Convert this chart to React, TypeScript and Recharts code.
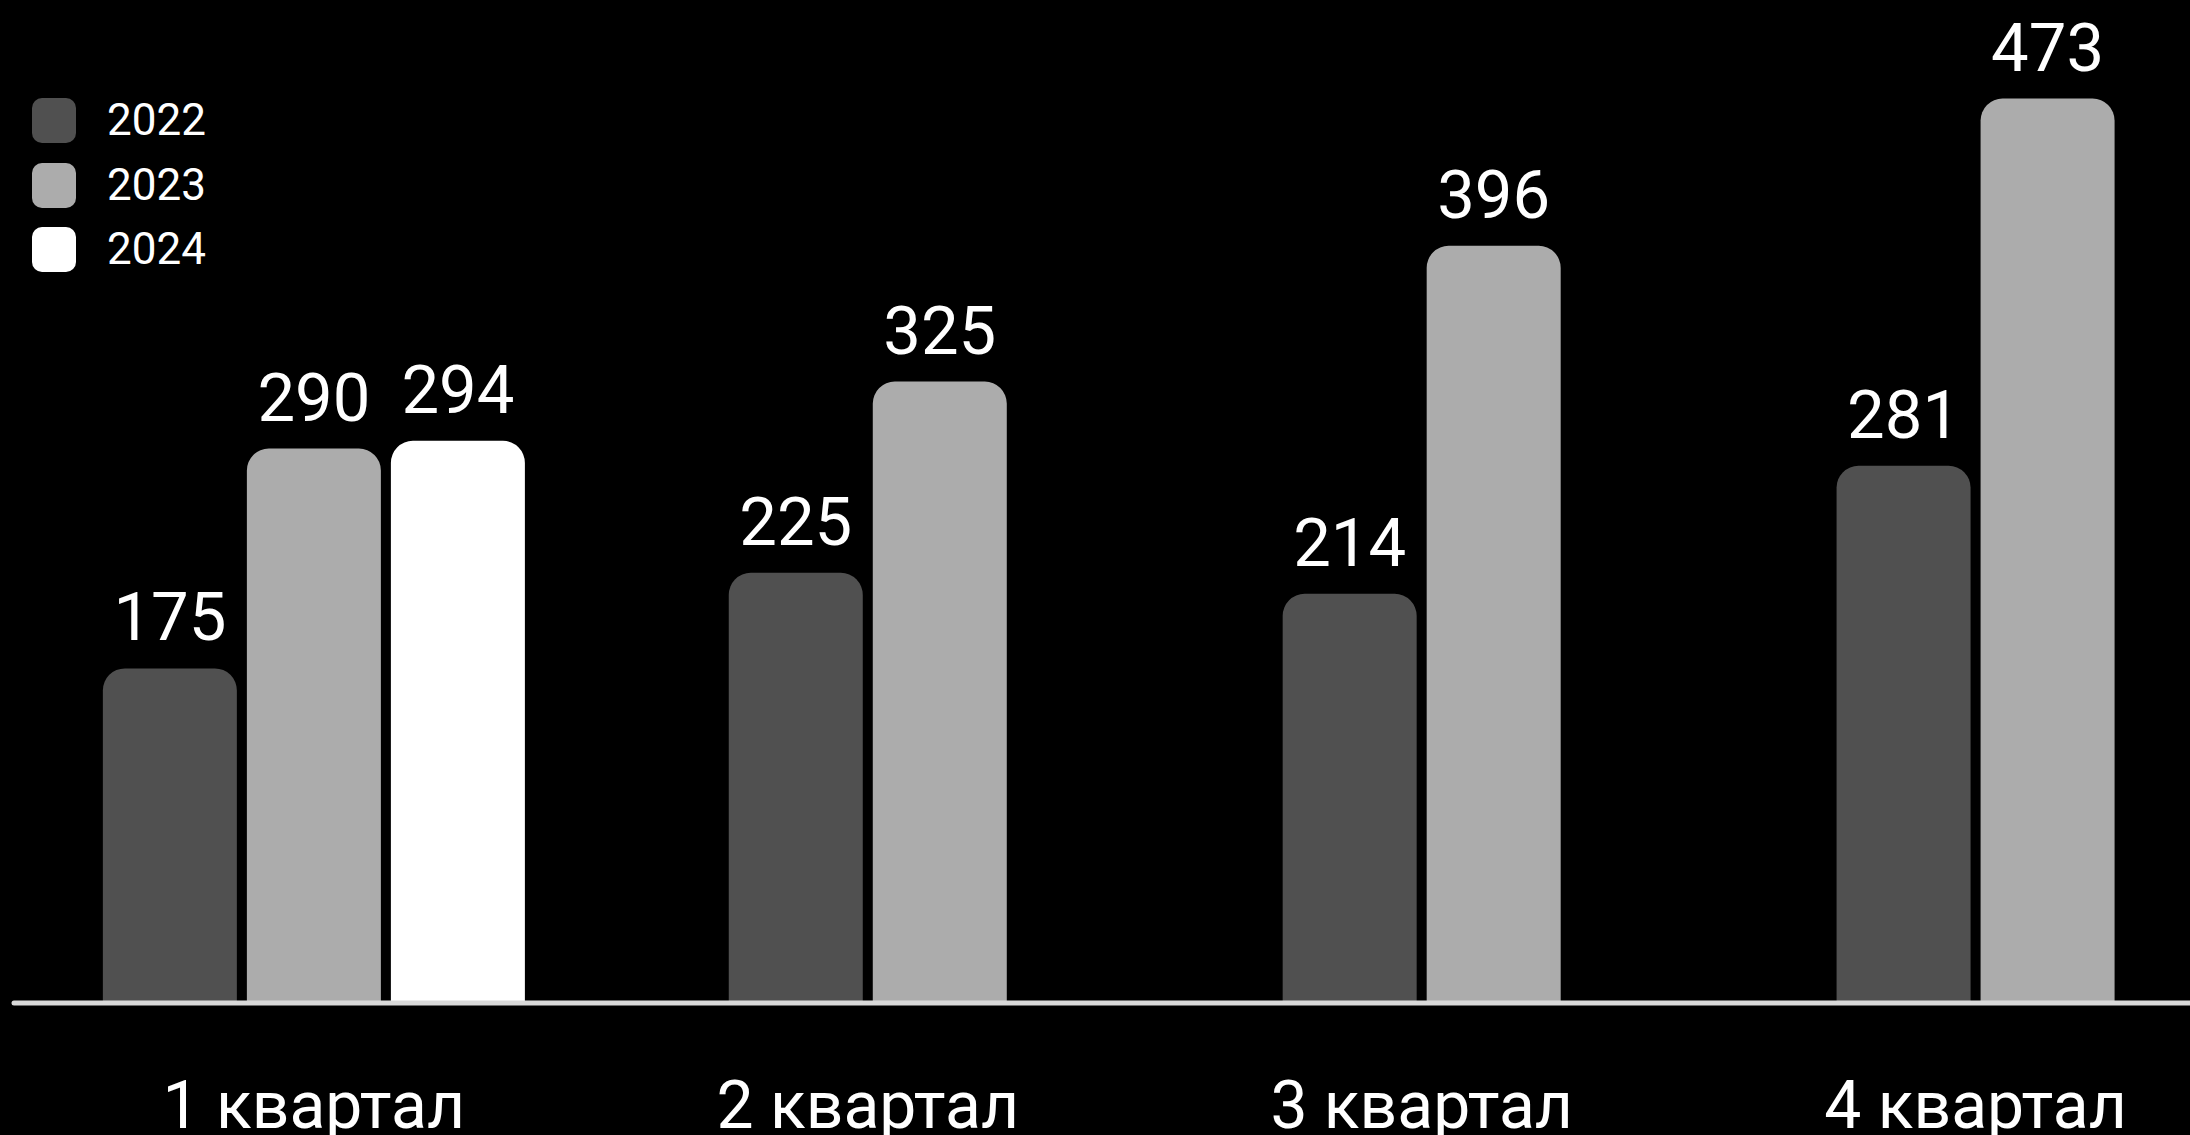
import React from 'react'
import {BarChart, Bar, XAxis, YAxis, Cell, LabelList} from 'recharts';

const quarters = ['1 квартал', '2 квартал', '3 квартал', '4 квартал'];
const years = ['2022', '2023', '2024'];
const sales2022 = [175, 225, 214, 281];
const sales2023 = [290, 325, 396, 473];
const sales2024: (number | null)[] = [294, null, null, null];
const yearColors = ['#505050', '#acacac', '#ffffff'];

const FONT = 'Roboto, "Noto Sans", sans-serif';
// distance between neighbouring bars inside a quarter, in quarter units
const SLOT = 0.26;

const series = [sales2022, sales2023, sales2024];

// one row per bar, bars of a quarter centred around its index
const rows: {pos: number, value: number, year: number}[] = [];
quarters.forEach((_q, qi) => {
    const present = series
        .map((s, yi) => ({value: s[qi], year: yi}))
        .filter(el => el.value !== null);
    present.forEach((el, i) => {
        rows.push({
            pos: qi + (i - (present.length - 1) / 2) * SLOT,
            value: el.value as number,
            year: el.year
        });
    });
});

const QuarterTick = ({x, y, payload}: any) => (
    <text x={x} y={y + 125} textAnchor="middle" fill="#ffffff" fontSize={66} fontFamily={FONT}>
        {quarters[payload.value]}
    </text>
);

const Legend = () => (
    <div style={{position: 'absolute', left: 32, top: 98}}>
        {years.map((y, i) => (
            <div key={y} style={{display: 'flex', alignItems: 'center', height: 45, marginBottom: 19.5}}>
                <div style={{width: 44, height: 45, borderRadius: 10, background: yearColors[i]}}/>
                <span style={{marginLeft: 31, color: '#ffffff', fontSize: 44, fontFamily: FONT, lineHeight: '45px'}}>{y}</span>
            </div>
        ))}
    </div>
);

const App = () => {
    return (
        <div style={{position: 'absolute', left: 0, top: 0, width: 2190, height: 1135, background: '#000000', overflow: 'hidden'}}>
            <BarChart width={2190} height={1135} data={rows} margin={{top: 47, right: 0, bottom: 0, left: 14}}>
                <XAxis
                    dataKey="pos"
                    type="number"
                    domain={[-0.5414, 3.3871]}
                    ticks={[0, 1, 2, 3]}
                    height={132}
                    tickSize={0}
                    tickMargin={0}
                    tick={<QuarterTick/>}
                    axisLine={{stroke: '#d9d9d9', strokeWidth: 5, strokeLinecap: 'round'}}
                />
                <YAxis hide domain={[0, 500]}/>
                <Bar dataKey="value" barSize={134} radius={[22, 22, 0, 0]} isAnimationActive={false}>
                    {rows.map((r, i) => <Cell key={i} fill={yearColors[r.year]}/>)}
                    <LabelList dataKey="value" position="top" offset={28} fill="#ffffff" fontSize={67} fontFamily={FONT}/>
                </Bar>
            </BarChart>
            <Legend/>
        </div>
    )
};

export default App;
